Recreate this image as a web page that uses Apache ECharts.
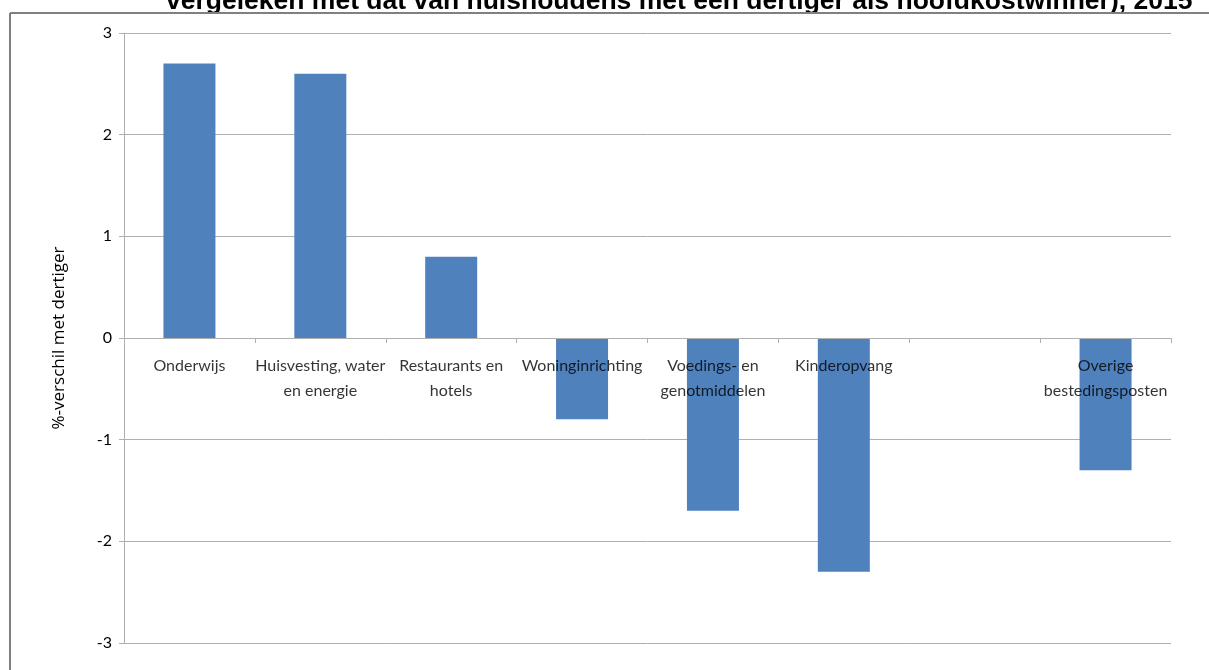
<!DOCTYPE html>
<html><head><meta charset="utf-8">
<script src="https://cdn.jsdelivr.net/npm/echarts@6/dist/echarts.min.js"></script>
<style>html,body{margin:0;padding:0;background:#fff}#c{width:1209px;height:670px}</style>
</head><body><div id="c"></div>
<script>
const titleText = 'vergeleken met dat van huishoudens met een dertiger als hoofdkostwinner), 2015';
const yAxisName = '%-verschil met dertiger';
const categories = ['Onderwijs', 'Huisvesting, water\nen energie', 'Restaurants en\nhotels', 'Woninginrichting', 'Voedings- en\ngenotmiddelen', 'Kinderopvang', '', 'Overige\nbestedingsposten'];
const values = [2.7, 2.6, 0.8, -0.8, -1.7, -2.3, null, -1.3];
const yTicks = [-3, -2, -1, 0, 1, 2, 3];

const labelPoints = categories.map((c, i) => ({value: [i, 0], name: c}));

const chart = echarts.init(document.getElementById('c'), null, {renderer: 'canvas'});
chart.setOption({
  animation: false,
  backgroundColor: '#fff',
  title: {
    text: titleText, left: 161, top: -17,
    textStyle: {fontFamily: 'Liberation Sans, Arial', fontWeight: 'bold', fontSize: 26.5, color: '#000'}
  },
  graphic: [
    {type: 'line', shape: {x1: 10, y1: 13, x2: 1209, y2: 13}, style: {stroke: '#808080', lineWidth: 2}, z: 100},
    {type: 'line', shape: {x1: 10, y1: 13, x2: 10, y2: 670}, style: {stroke: '#808080', lineWidth: 2}, z: 100}
  ],
  grid: {left: 124, right: 38, top: 33, bottom: 27, containLabel: false, outerBoundsMode: 'none'},
  xAxis: {
    type: 'category', data: categories,
    axisLine: {onZero: true, lineStyle: {color: '#b0b0b0', width: 1}},
    axisTick: {show: true, length: 5, lineStyle: {color: '#b0b0b0'}, alignWithLabel: false},
    axisLabel: {show: false},
    z: 5
  },
  yAxis: {
    type: 'value', min: yTicks[0], max: yTicks[yTicks.length - 1], interval: 1,
    name: yAxisName, nameLocation: 'middle', nameGap: 56, nameRotate: 90,
    nameTextStyle: {fontFamily: 'Open Sans', fontSize: 17, color: '#000'},
    axisLine: {show: true, lineStyle: {color: '#b0b0b0'}},
    axisTick: {show: true, length: 5, lineStyle: {color: '#b0b0b0'}},
    axisLabel: {color: '#000', fontFamily: 'Lato', fontSize: 16, margin: 12},
    splitLine: {show: true, lineStyle: {color: '#b0b0b0', width: 1}}
  },
  series: [{
    type: 'bar', data: values, barWidth: 52,
    itemStyle: {color: '#4f81bd'}, z: 1
  }, {
    type: 'scatter', data: labelPoints, symbolSize: 0, z: 10, silent: true,
    label: {
      show: true, position: 'bottom', distance: 15, formatter: p => p.name,
      color: '#000', fontFamily: 'Lato', fontSize: 16, lineHeight: 25, align: 'center'
    }
  }]
});
</script></body></html>
